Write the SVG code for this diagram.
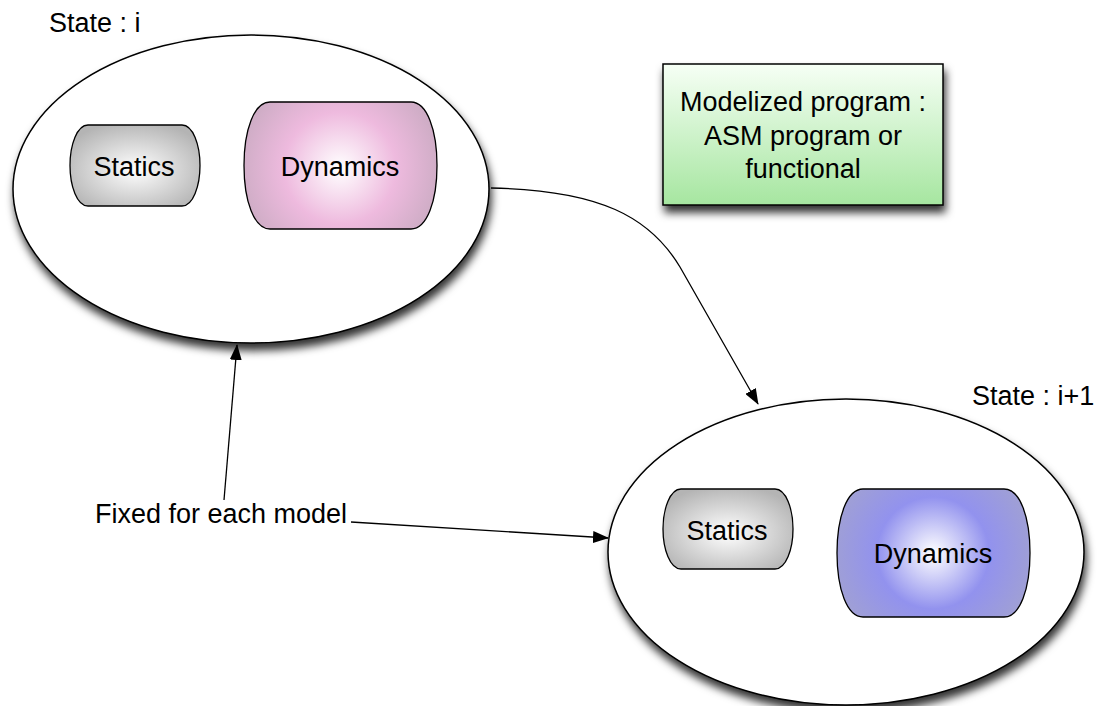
<svg xmlns="http://www.w3.org/2000/svg" width="1099" height="706" viewBox="0 0 1099 706">
<style>
text{font-family:"Liberation Sans",Arial,sans-serif;font-size:27px;fill:#000}
.c{text-anchor:middle}
.ell{fill:#fff;stroke:#000;stroke-width:1.5;filter:url(#sh)}
.sub{stroke:#000;stroke-width:1.3}
.conn{fill:none;stroke:#000;stroke-width:1.3;marker-end:url(#ah)}
</style>
<defs>
<filter id="sh" x="-10%" y="-10%" width="120%" height="130%">
<feDropShadow dx="2" dy="7" stdDeviation="4" flood-color="#000" flood-opacity="0.8"/>
</filter>
<radialGradient id="gs" cx="50%" cy="55%" r="60%">
<stop offset="0" stop-color="#ffffff"/>
<stop offset="1" stop-color="#b4b4b4"/>
</radialGradient>
<radialGradient id="gp" gradientUnits="userSpaceOnUse" cx="340" cy="168" r="112">
<stop offset="0" stop-color="#ffffff"/>
<stop offset="0.5" stop-color="#eebade"/>
<stop offset="1" stop-color="#c6a9bf"/>
</radialGradient>
<radialGradient id="gb" gradientUnits="userSpaceOnUse" cx="933" cy="553" r="112">
<stop offset="0" stop-color="#ffffff"/>
<stop offset="0.5" stop-color="#9292ee"/>
<stop offset="1" stop-color="#a3a3cf"/>
</radialGradient>
<linearGradient id="gg" x1="0" y1="0" x2="0" y2="1">
<stop offset="0" stop-color="#f6fff5"/>
<stop offset="1" stop-color="#a6e6a0"/>
</linearGradient>
<marker id="ah" markerWidth="16" markerHeight="12" refX="15" refY="6" orient="auto" markerUnits="userSpaceOnUse">
<path d="M0,0 L16,6 L0,12 Z" fill="#000"/>
</marker>
</defs>

<g id="state-i">
<ellipse class="ell" cx="251" cy="189" rx="238" ry="154"/>
<text x="49" y="32">State : i</text>
</g>
<g id="statics-i">
<path class="sub" fill="url(#gs)" d="M88,125 H182 C193,125 200,145 200,165.5 C200,186 193,206 182,206 H88 C77,206 70,186 70,165.5 C70,145 77,125 88,125 Z"/>
<text class="c" x="134" y="176">Statics</text>
</g>
<g id="dynamics-i">
<path class="sub" fill="url(#gp)" d="M270,102 H411 C427,102 437,130 437,165.5 C437,201 427,229 411,229 H270 C254,229 244,201 244,165.5 C244,130 254,102 270,102 Z"/>
<text class="c" x="340" y="176">Dynamics</text>
</g>

<g id="state-i1">
<ellipse class="ell" cx="846" cy="552" rx="238" ry="153"/>
<text x="972" y="405">State : i+1</text>
</g>
<g id="statics-i1">
<path class="sub" fill="url(#gs)" d="M681,489 H775 C786,489 793,509 793,529 C793,549 786,569 775,569 H681 C670,569 663,549 663,529 C663,509 670,489 681,489 Z"/>
<text class="c" x="727" y="540">Statics</text>
</g>
<g id="dynamics-i1">
<path class="sub" fill="url(#gb)" d="M863,489 H1004 C1020,489 1030,517 1030,553 C1030,589 1020,617 1004,617 H863 C847,617 837,589 837,553 C837,517 847,489 863,489 Z"/>
<text class="c" x="933" y="563">Dynamics</text>
</g>

<g id="program">
<rect x="663" y="64" width="280" height="141" fill="url(#gg)" stroke="#000" stroke-width="1.5" filter="url(#sh)"/>
<text class="c" x="803" y="111">Modelized program :</text>
<text class="c" x="803" y="145">ASM program or</text>
<text class="c" x="803" y="178">functional</text>
</g>

<g id="label-fixed">
<text x="95" y="523">Fixed for each model</text>
</g>

<g id="connectors">
<path class="conn" d="M491,188 C600,190 650,217 680,267 L758,404"/>
<path class="conn" d="M224,500 L237,345"/>
<path class="conn" d="M351,522 L608,538"/>
</g>
</svg>
